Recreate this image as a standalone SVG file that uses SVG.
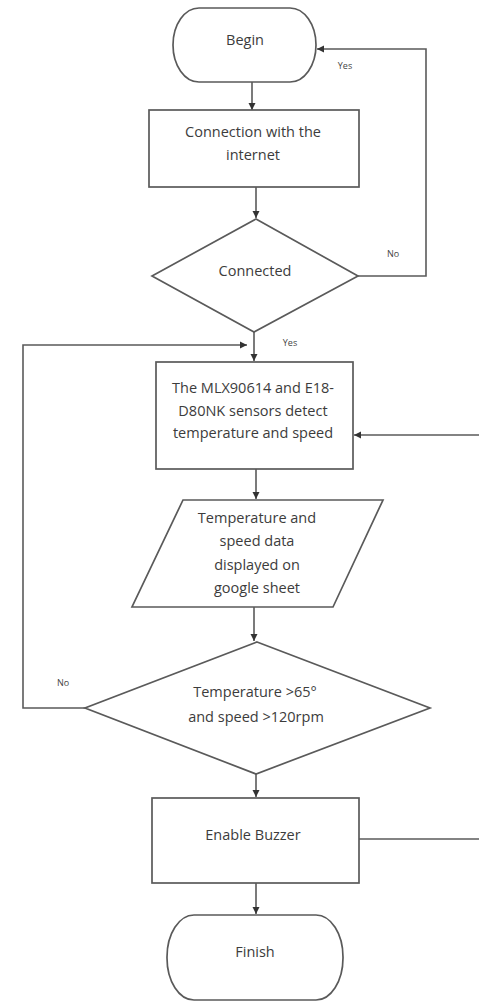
<svg xmlns="http://www.w3.org/2000/svg" width="479" height="1001" viewBox="0 0 479 1001">
<defs>
<marker id="ah" markerWidth="8" markerHeight="8" refX="7" refY="4" orient="auto" markerUnits="userSpaceOnUse">
<path d="M0,0.5 L7,4 L0,7.5 Z" fill="#333"/>
</marker>
<style>
.shape{fill:#fff;stroke:#5a5a5a;stroke-width:1.7}
.conn{fill:none;stroke:#5a5a5a;stroke-width:1.6}
.arr{marker-end:url(#ah)}
.t{font-family:"Open Sans","DejaVu Sans",sans-serif;font-size:14.5px;fill:#3c3c3c;text-anchor:middle}
.lbl{font-family:"Open Sans","DejaVu Sans",sans-serif;font-size:9px;fill:#444;text-anchor:middle}
</style>
</defs>
<rect width="479" height="1001" fill="#fff"/>
<g id="connectors">
<line class="conn arr" x1="252" y1="82" x2="252" y2="110"/>
<line class="conn arr" x1="256" y1="187" x2="256" y2="218"/>
<polyline class="conn arr" points="358,276 426,276 426,49 317,49"/>
<line class="conn arr" x1="254" y1="332" x2="254" y2="361"/>
<polyline class="conn arr" points="85,708 23,708 23,345 247,345"/>
<line class="conn arr" x1="479" y1="435" x2="354" y2="435"/>
<line class="conn arr" x1="256" y1="469" x2="256" y2="499"/>
<line class="conn arr" x1="254" y1="607" x2="254" y2="641"/>
<line class="conn arr" x1="256" y1="774" x2="256" y2="797"/>
<line class="conn" x1="359" y1="839" x2="479" y2="839"/>
<line class="conn arr" x1="256" y1="883" x2="256" y2="914"/>
<text class="lbl" x="345" y="69">Yes</text>
<text class="lbl" x="393" y="257">No</text>
<text class="lbl" x="290" y="346">Yes</text>
<text class="lbl" x="63" y="686">No</text>
</g>
<g id="begin">
<rect class="shape" x="173" y="8" width="143" height="74" rx="26" ry="37"/>
<text class="t" x="245" y="45">Begin</text>
</g>
<g id="connection">
<rect class="shape" x="149" y="110" width="210" height="77"/>
<text class="t" x="253" y="137">Connection with the</text>
<text class="t" x="253" y="160">internet</text>
</g>
<g id="connected">
<polygon class="shape" points="256,219 358,276 254,332 152,276"/>
<text class="t" x="255" y="276">Connected</text>
</g>
<g id="sensors">
<rect class="shape" x="156" y="362" width="197" height="107"/>
<text class="t" x="253" y="393">The MLX90614 and E18-</text>
<text class="t" x="253" y="416">D80NK sensors detect</text>
<text class="t" x="253" y="438">temperature and speed</text>
</g>
<g id="display">
<polygon class="shape" points="183,500 383,500 333,607 132,607"/>
<text class="t" x="257" y="523">Temperature and</text>
<text class="t" x="257" y="546">speed data</text>
<text class="t" x="257" y="570">displayed on</text>
<text class="t" x="257" y="593">google sheet</text>
</g>
<g id="check">
<polygon class="shape" points="257,642 430,708 256,774 85,708"/>
<text class="t" x="255" y="697">Temperature &gt;65°</text>
<text class="t" x="256" y="722">and speed &gt;120rpm</text>
</g>
<g id="buzzer">
<rect class="shape" x="152" y="798" width="207" height="85"/>
<text class="t" x="253" y="840">Enable Buzzer</text>
</g>
<g id="finish">
<rect class="shape" x="167" y="915" width="176" height="85" rx="27" ry="42"/>
<text class="t" x="255" y="957">Finish</text>
</g>
</svg>
